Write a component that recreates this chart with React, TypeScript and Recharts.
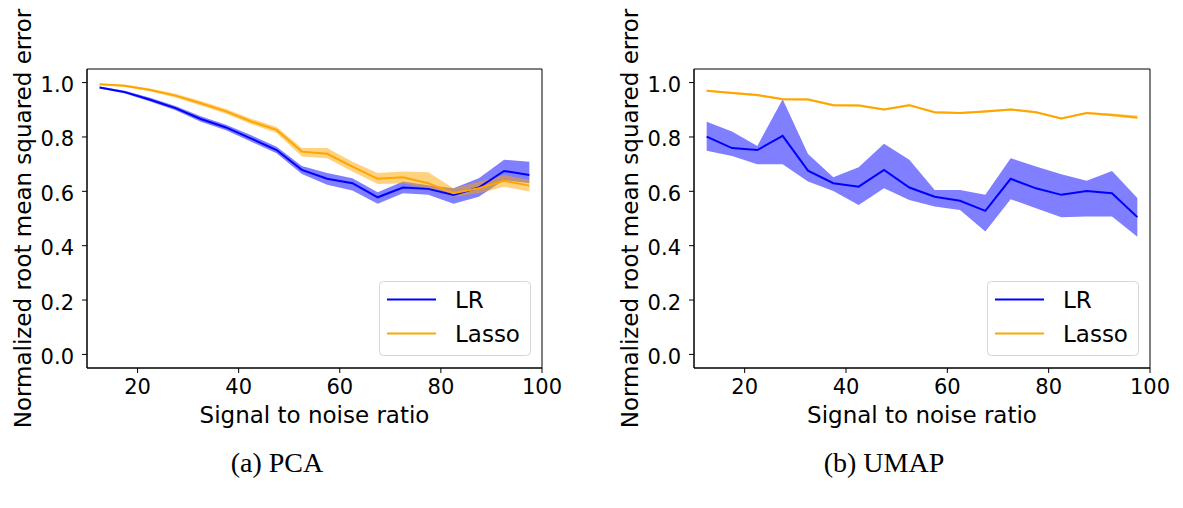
import React from 'react';
import {
  ComposedChart,
  Line,
  Area,
  XAxis,
  YAxis,
  ReferenceArea,
  Label,
} from 'recharts';

// Signal-to-noise ratio at each evaluation point
const snr = [12.5, 17.5, 22.5, 27.5, 32.5, 37.5, 42.5, 47.5, 52.5, 57.5, 62.5, 67.5, 72.5, 77.5, 82.5, 87.5, 92.5, 97.5];

// PCA embedding: mean NRMSE and spread
const pcaLR = [0.982, 0.965, 0.937, 0.906, 0.866, 0.835, 0.794, 0.752, 0.679, 0.646, 0.630, 0.578, 0.614, 0.609, 0.587, 0.614, 0.675, 0.660];
const pcaLRLow = [0.978, 0.960, 0.930, 0.898, 0.856, 0.825, 0.782, 0.740, 0.664, 0.624, 0.603, 0.554, 0.593, 0.587, 0.554, 0.580, 0.642, 0.630];
const pcaLRHigh = [0.986, 0.970, 0.944, 0.914, 0.876, 0.845, 0.806, 0.764, 0.693, 0.667, 0.648, 0.597, 0.636, 0.622, 0.611, 0.648, 0.716, 0.709];
const pcaLasso = [0.994, 0.988, 0.973, 0.952, 0.924, 0.894, 0.857, 0.826, 0.746, 0.738, 0.691, 0.646, 0.652, 0.630, 0.593, 0.611, 0.639, 0.621];
const pcaLassoLow = [0.991, 0.984, 0.968, 0.945, 0.916, 0.885, 0.847, 0.815, 0.728, 0.722, 0.673, 0.627, 0.630, 0.611, 0.580, 0.593, 0.617, 0.599];
const pcaLassoHigh = [0.997, 0.992, 0.978, 0.959, 0.932, 0.903, 0.867, 0.837, 0.759, 0.759, 0.709, 0.667, 0.673, 0.670, 0.611, 0.636, 0.660, 0.642];

// UMAP embedding: mean NRMSE and spread
const umapLR = [0.801, 0.759, 0.752, 0.804, 0.676, 0.630, 0.617, 0.679, 0.614, 0.580, 0.565, 0.528, 0.646, 0.611, 0.587, 0.601, 0.593, 0.505];
const umapLRLow = [0.749, 0.730, 0.700, 0.700, 0.636, 0.601, 0.550, 0.611, 0.568, 0.544, 0.531, 0.452, 0.571, 0.538, 0.505, 0.507, 0.507, 0.433];
const umapLRHigh = [0.856, 0.820, 0.767, 0.939, 0.737, 0.652, 0.689, 0.775, 0.716, 0.605, 0.605, 0.587, 0.722, 0.691, 0.663, 0.639, 0.675, 0.575];
const umapLasso = [0.970, 0.962, 0.954, 0.939, 0.938, 0.917, 0.916, 0.901, 0.917, 0.891, 0.888, 0.894, 0.901, 0.891, 0.868, 0.888, 0.881, 0.872];
const umapLassoLow = [0.966, 0.958, 0.950, 0.935, 0.934, 0.913, 0.912, 0.897, 0.913, 0.887, 0.884, 0.890, 0.897, 0.887, 0.864, 0.884, 0.876, 0.866];
const umapLassoHigh = [0.974, 0.966, 0.958, 0.943, 0.942, 0.921, 0.920, 0.905, 0.921, 0.895, 0.892, 0.898, 0.905, 0.895, 0.872, 0.892, 0.886, 0.879];

const xTicks = [20, 40, 60, 80, 100];
const yTicks = [0, 0.2, 0.4, 0.6, 0.8, 1.0];
const legendItems = [
  { name: 'LR', color: '#0000ff' },
  { name: 'Lasso', color: '#ffa500' },
];

const FONT = '"DejaVu Sans", sans-serif';

type Row = {
  snr: number;
  lr: number;
  lrBand: [number, number];
  lasso: number;
  lassoBand: [number, number];
};

function buildRows(
  lr: number[], lrLow: number[], lrHigh: number[],
  lasso: number[], lassoLow: number[], lassoHigh: number[],
): Row[] {
  return snr.map((s, i) => ({
    snr: s,
    lr: lr[i],
    lrBand: [lrLow[i], lrHigh[i]],
    lasso: lasso[i],
    lassoBand: [lassoLow[i], lassoHigh[i]],
  }));
}

const pcaRows = buildRows(pcaLR, pcaLRLow, pcaLRHigh, pcaLasso, pcaLassoLow, pcaLassoHigh);
const umapRows = buildRows(umapLR, umapLRLow, umapLRHigh, umapLasso, umapLassoLow, umapLassoHigh);

// Legend box drawn in the lower-right corner of each panel
function LegendBox({ left, top }: { left: number; top: number }) {
  return (
    <svg width={153} height={76} style={{ position: 'absolute', left, top, display: 'block' }}>
      <rect x={0.5} y={0.5} width={151} height={74} rx={4} ry={4} fill="#ffffff" fillOpacity={0.8} stroke="#d6d6d6" strokeWidth={1} />
      {legendItems.map((it, i) => (
        <g key={it.name}>
          <line x1={8} x2={57} y1={18.5 + i * 34} y2={18.5 + i * 34} stroke={it.color} strokeWidth={2} />
          <text x={76} y={26.5 + i * 34} fontSize={23} fontFamily={FONT} fill="#000">{it.name}</text>
        </g>
      ))}
    </svg>
  );
}

function Panel({ rows, width, rightMargin }: { rows: Row[]; width: number; rightMargin: number }) {
  const tickStyle = { fontSize: 21, fill: '#000', fontFamily: FONT };
  return (
    <ComposedChart
      width={width}
      height={440}
      data={rows}
      margin={{ top: 69, right: rightMargin, bottom: 0, left: 0 }}
    >
      <XAxis
        dataKey="snr"
        type="number"
        domain={[10, 100]}
        ticks={xTicks}
        allowDataOverflow
        height={72}
        tickSize={5}
        tickMargin={6}
        stroke="#000"
        tick={tickStyle}
      >
        <Label
          value="Signal to noise ratio"
          position="insideBottom"
          offset={17}
          style={{ fontSize: 23, fill: '#000', fontFamily: FONT }}
        />
      </XAxis>
      <YAxis
        type="number"
        domain={[-0.05, 1.05]}
        ticks={yTicks}
        allowDataOverflow
        width={87}
        tickSize={5}
        tickMargin={8}
        stroke="#000"
        tick={{ ...tickStyle, dy: 2 }}
        tickFormatter={(v: number) => v.toFixed(1)}
      >
        <Label
          value="Normalized root mean squared error"
          position="insideLeft"
          angle={-90}
          offset={23}
          style={{ fontSize: 23, fill: '#000', fontFamily: FONT, textAnchor: 'middle' }}
        />
      </YAxis>
      <Area dataKey="lrBand" type="linear" stroke="none" fill="#0000ff" fillOpacity={0.5} isAnimationActive={false} />
      <Line dataKey="lr" type="linear" stroke="#0000ff" strokeWidth={2} dot={false} isAnimationActive={false} />
      <Area dataKey="lassoBand" type="linear" stroke="none" fill="#ffa500" fillOpacity={0.5} isAnimationActive={false} />
      <Line dataKey="lasso" type="linear" stroke="#ffa500" strokeWidth={2} dot={false} isAnimationActive={false} />
      <ReferenceArea x1={10} x2={100} y1={-0.05} y2={1.05} fill="none" stroke="#000" strokeWidth={1} ifOverflow="visible" />
    </ComposedChart>
  );
}

const captionStyle: React.CSSProperties = {
  position: 'absolute',
  top: 446,
  width: 260,
  textAlign: 'center',
  fontFamily: '"Liberation Serif", serif',
  fontSize: 28,
  color: '#000',
  lineHeight: '34px',
};

export default function App() {
  return (
    <div style={{ position: 'absolute', left: 0, top: 0, width: 1183, height: 508, background: '#fff' }}>
      <div style={{ position: 'absolute', left: 0, top: 0 }}>
        <Panel rows={pcaRows} width={600} rightMargin={58} />
      </div>
      <div style={{ position: 'absolute', left: 607, top: 0 }}>
        <Panel rows={umapRows} width={576} rightMargin={33} />
      </div>
      <LegendBox left={379} top={281} />
      <LegendBox left={987} top={281} />
      <div style={{ ...captionStyle, left: 277 - 130 }}>(a) PCA</div>
      <div style={{ ...captionStyle, left: 884 - 130 }}>(b) UMAP</div>
    </div>
  );
}
